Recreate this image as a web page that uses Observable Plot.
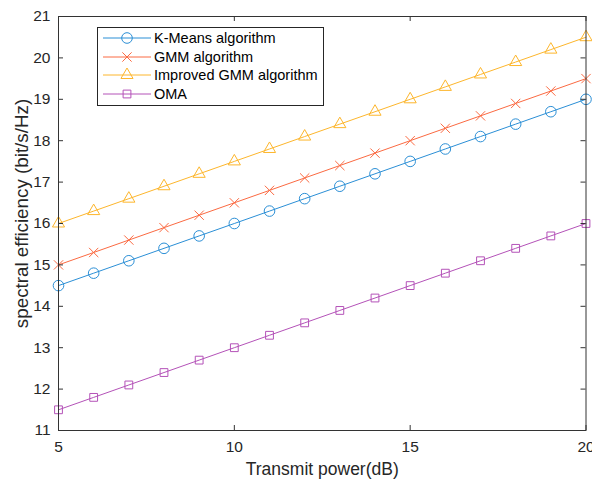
<!DOCTYPE html>
<html><head><meta charset="utf-8">
<script src="https://cdn.jsdelivr.net/npm/d3@7"></script>
<script src="https://cdn.jsdelivr.net/npm/@observablehq/plot@0.6"></script>
<style>
body{margin:0;background:#fff;font-family:"Liberation Sans",Arial,sans-serif}
#wrap{position:relative;width:592px;height:479px}
#legend{position:absolute;left:97px;top:27px;width:225px;height:76px;border:1px solid #262626;background:#fff;padding-top:1px}
.row{display:flex;align-items:center;height:18.5px}
.row span{font-size:14.5px;color:#000;margin-left:1px;white-space:nowrap}
</style>
</head><body><div id="wrap"><div id="legend"></div></div>
<script>
const power = [5,6,7,8,9,10,11,12,13,14,15,16,17,18,19,20];
const kmeans   = [14.5,14.8,15.1,15.4,15.7,16.0,16.3,16.6,16.9,17.2,17.5,17.8,18.1,18.4,18.7,19.0];
const gmm      = [15.0,15.3,15.6,15.9,16.2,16.5,16.8,17.1,17.4,17.7,18.0,18.3,18.6,18.9,19.2,19.5];
const improved = [16.0,16.3,16.6,16.9,17.2,17.5,17.8,18.1,18.4,18.7,19.0,19.3,19.6,19.9,20.2,20.5];
const oma      = [11.5,11.8,12.1,12.4,12.7,13.0,13.3,13.6,13.9,14.2,14.5,14.8,15.1,15.4,15.7,16.0];
const xTicks = [5,10,15,20];
const yTicks = [11,12,13,14,15,16,17,18,19,20,21];
const xDomain = [5,20];
const yDomain = [11,21];
const seriesNames = ["K-Means algorithm","GMM algorithm","Improved GMM algorithm","OMA"];
const seriesValues = [kmeans, gmm, improved, oma];
const seriesColors = ["#2b8fd6","#fb6a42","#fdb62c","#b452b8"];
const seriesSymbols = ["circle","times","triangle","square"];
const seriesR = [5.3,4.3,4.5,4.4];
const xLabel = "Transmit power(dB)";
const yLabel = "spectral efficiency (bit/s/Hz)";

const W = 592, H = 479, mL = 58, mR = 6.5, mT = 16, mB = 49;
const frameW = W - mL - mR, frameH = H - mT - mB;
const tickLen = 5, axisColor = "#333333", textColor = "#262626";

const seriesMarks = seriesValues.flatMap((vals, k) => [
  Plot.line(vals, {x: (d, i) => power[i], y: d => d, stroke: seriesColors[k], strokeWidth: 1}),
  Plot.dot(vals, {x: (d, i) => power[i], y: d => d, stroke: seriesColors[k], fill: "none",
    symbol: seriesSymbols[k], r: seriesR[k], strokeWidth: 1})
]);

const chart = Plot.plot({
  width: W, height: H,
  marginLeft: mL, marginRight: mR, marginTop: mT, marginBottom: mB,
  style: {fontFamily: '"Liberation Sans", Arial, sans-serif', background: "#fff"},
  x: {domain: xDomain},
  y: {domain: yDomain},
  marks: [
    ...seriesMarks,
    Plot.frame({stroke: axisColor, strokeWidth: 1}),
    Plot.tickX(xTicks, {x: d => d, insetTop: frameH - tickLen, stroke: axisColor}),
    Plot.tickX(xTicks, {x: d => d, insetBottom: frameH - tickLen, stroke: axisColor}),
    Plot.tickY(yTicks, {y: d => d, insetRight: frameW - tickLen, stroke: axisColor}),
    Plot.tickY(yTicks, {y: d => d, insetLeft: frameW - tickLen, stroke: axisColor}),
    Plot.axisX(xTicks, {tickSize: 0, tickPadding: 10, fontSize: 15.5, label: null, fill: textColor}),
    Plot.axisY(yTicks, {tickSize: 0, tickPadding: 8, fontSize: 15.5, label: null, fill: textColor}),
    Plot.text([xLabel], {text: d => d, frameAnchor: "bottom", dy: 44, lineAnchor: "bottom", fontSize: 17.5, fill: textColor}),
    Plot.text([yLabel], {text: d => d, frameAnchor: "left", dx: -37, dy: -10, rotate: -90,
      textAnchor: "middle", lineAnchor: "middle", fontSize: 18.8, fill: textColor})
  ]
});
const wrap = document.getElementById("wrap");
wrap.insertBefore(chart, wrap.firstChild);

const symbolMap = {circle: d3.symbolCircle, times: d3.symbolTimes, triangle: d3.symbolTriangle, square: d3.symbolSquare};
const legend = document.getElementById("legend");
seriesNames.forEach((name, k) => {
  const row = document.createElement("div");
  row.className = "row";
  const r = seriesR[k];
  const path = d3.symbol(symbolMap[seriesSymbols[k]], Math.PI * r * r)();
  row.innerHTML = `<svg width="55" height="18" style="flex:none">
    <line x1="5" x2="53" y1="9" y2="9" stroke="${seriesColors[k]}" stroke-width="1"/>
    <path transform="translate(29,9)" d="${path}" fill="none" stroke="${seriesColors[k]}" stroke-width="1"/>
  </svg><span>${name}</span>`;
  legend.appendChild(row);
});
</script>
</body></html>
